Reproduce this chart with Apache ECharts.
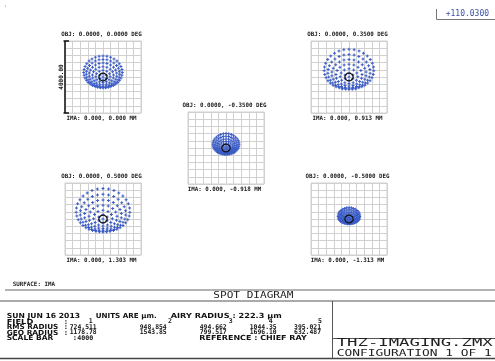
<!DOCTYPE html>
<html>
<head>
<meta charset="utf-8">
<script src="https://cdn.jsdelivr.net/npm/echarts@6/dist/echarts.min.js"></script>
<style>
  html, body { margin: 0; padding: 0; background: #ffffff; }
  #chart { width: 495px; height: 361px; }
</style>
</head>
<body>
<div id="chart"></div>
<script>
// ---- Spot diagram data (units: µm unless noted) ----
const fieldNumbers = [1, 2, 3, 4, 5];
const objectFieldDeg = [0.0, 0.35, -0.35, 0.5, -0.5];      // OBJ y-field, degrees
const imageFieldMm = [0.0, 0.913, -0.918, 1.303, -1.313];  // IMA y-height, mm
const rmsRadius = [724.511, 948.854, 494.662, 1044.35, 395.021];
const geoRadius = [1178.78, 1543.85, 799.517, 1696.10, 632.487];
const airyRadius = 222.3;
const scaleBar = 4000;
const dateText = 'SUN JUN 16 2013';
const surfaceName = 'IMA';
const referenceName = 'CHIEF RAY';
const fileName = 'THZ-IMAGING.ZMX';
const configText = 'CONFIGURATION 1 OF 1';
const headerValue = '+110.0300';

// Spot extents measured from the chief ray for each field
const spotTop = [1170, 1540, 800, 1690, 630];
const spotBottom = [600, 680, 345, 720, 265];
const spotHalfWidth = [1030, 1330, 700, 1440, 580];
const pupilRings = 6;   // hexapolar sampling: ring k carries 6k rays

// ---- Layout ----
const boxW = 76, boxH = 72;
const boxes = [[65, 41], [311, 41], [188, 112], [65, 183], [311, 183]];
const half = scaleBar / 2;

// Trace the hexapolar pupil grid through a defocus + coma + spherical ray model
function traceSpot(i) {
  const T = spotTop[i], B = spotBottom[i], W = spotHalfWidth[i];
  const A = (T + B) / 2;
  const c = (T - B) / 6;
  const s = (6 * c - A) / 2;
  const ay = A - s;
  const ax = (W - 0.38 * c) - s;
  const pts = [[0, 0]];
  for (let k = 1; k <= pupilRings; k++) {
    const r = k / pupilRings;
    const n = 6 * k;
    for (let j = 0; j < n; j++) {
      const t = 2 * Math.PI * j / n;
      const x = (ax * r + s * r * r * r) * Math.sin(t) + c * r * r * Math.sin(2 * t);
      const y = (ay * r + s * r * r * r) * Math.cos(t) + c * r * r * (2 + Math.cos(2 * t));
      pts.push([x, y]);
    }
  }
  return pts;
}

function airyCircle() {
  const pts = [];
  for (let j = 0; j <= 64; j++) {
    const t = 2 * Math.PI * j / 64;
    pts.push([airyRadius * Math.cos(t), airyRadius * Math.sin(t)]);
  }
  return pts;
}

const plusPath = 'path://M2,0H4V2H6V4H4V6H2V4H0V2H2Z';
const gridColor = '#d0d0d0';
const spotColor = '#3b5cc6';

const grids = [], xAxes = [], yAxes = [], series = [];
fieldNumbers.forEach((f, i) => {
  grids.push({
    left: boxes[i][0], top: boxes[i][1], width: boxW, height: boxH,
    show: true, borderColor: gridColor, borderWidth: 1
  });
  const ax = {
    gridIndex: i, type: 'value', min: -half, max: half, interval: 400,
    axisLine: { show: false }, axisTick: { show: false }, axisLabel: { show: false },
    splitLine: { show: true, lineStyle: { color: gridColor, width: 1 } }
  };
  xAxes.push(Object.assign({}, ax));
  yAxes.push(Object.assign({}, ax));
  series.push({
    type: 'scatter', xAxisIndex: i, yAxisIndex: i, data: traceSpot(i),
    symbol: plusPath, symbolSize: 3, itemStyle: { color: spotColor, opacity: 1 },
    silent: true, animation: false, z: 3
  });
  series.push({
    type: 'line', xAxisIndex: i, yAxisIndex: i, data: airyCircle(),
    showSymbol: false, symbol: 'none', smooth: false,
    lineStyle: { color: '#111111', width: 1.2 }, silent: true, animation: false, z: 4
  });
});

const chart = echarts.init(document.getElementById('chart'), null, { renderer: 'canvas' });
chart.setOption({
  backgroundColor: '#ffffff',
  animation: false,
  grid: grids, xAxis: xAxes, yAxis: yAxes, series: series
});

// ---- Text helpers ----
const mctx = document.createElement('canvas').getContext('2d');
function label(str, x, y, o) {
  const size = o.size || 7, family = o.family || 'DejaVu Sans', weight = o.weight || 'normal';
  mctx.font = weight + ' ' + size + 'px ' + family;
  const w = mctx.measureText(str).width;
  const sx = o.width ? o.width / w : (o.scaleX || 1);
  let left = x;
  if (o.align === 'center') left = x - w * sx / 2;
  else if (o.align === 'right') left = x - w * sx;
  return {
    type: 'text', x: left, y: y, scaleX: sx, scaleY: o.scaleY || 1, silent: true, z: 100,
    style: {
      text: str, x: 0, y: 0, fontSize: size, fontFamily: family, fontWeight: weight,
      fill: o.color || '#1a1a1a', align: 'left', verticalAlign: 'middle'
    }
  };
}
function rule(x1, y1, x2, y2, color, width) {
  return {
    type: 'line', silent: true, z: 90,
    shape: { x1: x1, y1: y1, x2: x2, y2: y2 },
    style: { stroke: color || '#555555', lineWidth: width || 1 }
  };
}

const g = [];
const mono = 'DejaVu Sans Mono';

// Field captions above and below each box
fieldNumbers.forEach((f, i) => {
  const cx = boxes[i][0] + boxW / 2 - 1.5;
  const objText = 'OBJ: 0.0000, ' + objectFieldDeg[i].toFixed(4) + ' DEG';
  const imaText = 'IMA: 0.000, ' + imageFieldMm[i].toFixed(3) + ' MM';
  g.push(label(objText, cx, boxes[i][1] - 6.5,
    { family: mono, size: 6, weight: 'bold', align: 'center', width: objText.length * 3.5 }));
  g.push(label(imaText, cx, boxes[i][1] + boxH + 5.7,
    { family: mono, size: 6, weight: 'bold', align: 'center', width: imaText.length * 3.5 }));
});

// Scale bar beside the first box, spanning the scale-bar length
const pTop = chart.convertToPixel({ gridIndex: 0 }, [-half, scaleBar / 2]);
const pBot = chart.convertToPixel({ gridIndex: 0 }, [-half, -scaleBar / 2]);
const bx = pTop[0];
g.push(rule(bx, pTop[1], bx, pBot[1], '#111111', 1.5));
g.push(rule(bx - 1.5, pTop[1], bx + 4, pTop[1], '#111111', 1.5));
g.push(rule(bx - 1.5, pBot[1], bx + 4, pBot[1], '#111111', 1.5));
const barLabel = label(scaleBar.toFixed(2), 0, 0, { family: mono, size: 6, weight: 'bold' });
barLabel.x = bx - 3.8; barLabel.y = (pTop[1] + pBot[1]) / 2;
barLabel.rotation = Math.PI / 2;
barLabel.style.align = 'center';
barLabel.scaleX = 1;
g.push(barLabel);

// Header value tag, top right
g.push(rule(436.5, 9, 436.5, 19.5, '#777777', 1));
g.push(rule(436.5, 19.5, 495, 19.5, '#777777', 1));
g.push(label(headerValue, 445.7, 14, { family: mono, size: 8, width: 43.3, color: '#3a50a8' }));
g.push({ type: 'circle', shape: { cx: 5.5, cy: 6, r: 0.6 }, style: { fill: '#888888' }, silent: true });

// Summary table
g.push(label('SURFACE: ' + surfaceName, 12.7, 284.6, { family: mono, size: 6, weight: 'bold', width: 42.3 }));
g.push(rule(5, 290, 495, 290, '#666666', 1));
g.push(rule(0, 301, 495, 301, '#555555', 1));
g.push(rule(0, 358.5, 495, 358.5, '#444444', 1.5));
g.push(rule(332.5, 301, 332.5, 358.5, '#555555', 1));
g.push(rule(332.5, 338.5, 495, 338.5, '#555555', 1));
g.push(label('SPOT DIAGRAM', 213.3, 295.6, { family: mono, size: 9.5, width: 80, color: '#222222' }));
g.push(label(fileName, 336.7, 343, { family: mono, size: 10, width: 156, color: '#222222' }));
g.push(label(configText, 336.7, 353.6, { family: mono, size: 9.5, width: 155, color: '#222222' }));

const sans = 'DejaVu Sans';
const rowY = [316, 321.7, 327.2, 332.7, 338.2];
const tb = (s, x, y, w) => label(s, x, y, { family: sans, size: 7, weight: 'bold', width: w, color: '#111111' });
const tn = (s, xr, y) => label(s, xr, y, { family: mono, size: 6.5, weight: 'bold', align: 'right', width: s.length * 3.85, color: '#111111' });

g.push(tb(dateText, 6.7, rowY[0], 73.3));
g.push(tb('UNITS ARE µm.', 95.7, rowY[0], 61));
g.push(tb('AIRY RADIUS : ' + airyRadius.toFixed(1) + ' µm', 170.7, rowY[0], 111));

g.push(tb('FIELD', 6.7, rowY[1], 26.6));
g.push(tb('RMS RADIUS', 6.7, rowY[2], 51.6));
g.push(tb('GEO RADIUS', 6.7, rowY[3], 51.6));
g.push(tb('SCALE BAR', 6.7, rowY[4], 46.6));
[1, 2, 3].forEach(r => g.push(label(':', 66, rowY[r], { family: sans, size: 7, weight: 'bold', align: 'center' })));
g.push(label(':', 75, rowY[4], { family: sans, size: 7, weight: 'bold', align: 'center' }));

const fieldNumX = [90.7, 170, 230.7, 270.7, 320];
const colRight = [96.7, 166.7, 226.7, 276.7, 321];
fieldNumbers.forEach((f, i) => {
  g.push(label(String(f), fieldNumX[i], rowY[1], { family: mono, size: 6.5, weight: 'bold', align: 'center' }));
  const rms = rmsRadius[i] >= 1000 ? rmsRadius[i].toFixed(2) : rmsRadius[i].toFixed(3);
  const geo = geoRadius[i] >= 1000 ? geoRadius[i].toFixed(2) : geoRadius[i].toFixed(3);
  g.push(tn(rms, colRight[i], rowY[2]));
  g.push(tn(geo, colRight[i], rowY[3]));
});
g.push(label(String(scaleBar), 77.3, rowY[4], { family: mono, size: 6.5, weight: 'bold', width: 16, color: '#111111' }));
g.push(tb('REFERENCE : ' + referenceName, 199.3, rowY[4], 107.4));

chart.setOption({ graphic: g });
</script>
</body>
</html>
